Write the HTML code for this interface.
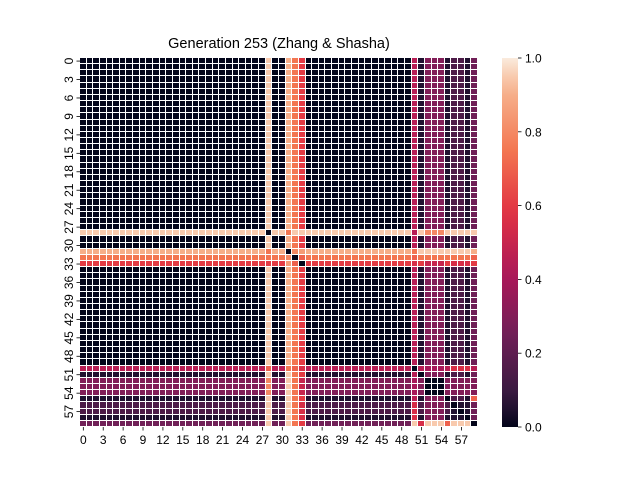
<!DOCTYPE html>
<html><head><meta charset="utf-8"><style>
body{margin:0;background:#fff;width:640px;height:480px;overflow:hidden}
svg{display:block;font-family:"Liberation Sans","DejaVu Sans",sans-serif}
</style></head><body>
<svg id="chart" width="640" height="480" viewBox="0 0 640 480" xmlns="http://www.w3.org/2000/svg">
<rect width="640" height="480" fill="#fff"/>
<text x="279" y="48" text-anchor="middle" font-size="14.5">Generation 253 (Zhang &amp; Shasha)</text>
<g id="cells"></g>
<g id="xticks"></g>
<g id="yticks"></g>
<defs><linearGradient id="rocket" x1="0" y1="1" x2="0" y2="0"></linearGradient></defs>
<rect x="502" y="58" width="16" height="369" fill="url(#rocket)"/>
<g id="cbticks"></g>
</svg>
<script>
// 20-level codes: char index in LEVELS / 20 = value
const LEVELS = "0123456789ABCDEFGHIJK";
const NORMAL = "0*28,J,0*2,I,F,C,0*16,9,1,6*3,1,3*2,1,5";
const rowSpecs = {
  28: "J*28,0,J*2,F,J*2,J*16,9,J,G*3,J*5",
  31: "I*28,F,I*2,0,G,H,I*16,F,J*8,I",
  32: "F*28,F,F*2,G,0,E,F*16,E,F*8,E",
  33: "C*28,C,C*2,H,E,0,C*16,B,C,A*3,C,B*3,C",
  50: "9*28,E,9*2,F,E,B,9*16,0,9,8*3,9,B*3,9",
  51: "1*28,J,1*2,J,F,C,1*16,9,0,6*3,1,3*2,1,5",
  52: "6*28,G,6*2,J,F,A,6*16,8,6,0*3,6*5",
  53: "6*28,G,6*2,J,F,A,6*16,8,6,0*3,6*5",
  54: "6*28,G,6*2,J,F,A,6*16,8,6,0*3,6*5",
  55: "1*28,J,1*2,J,F,C,1*16,9,1,6*3,0,3*2,1,E",
  56: "3*28,J,3*2,J,F,B,3*16,B,3,6*3,3,0,1,1,5",
  57: "3*28,J,3*2,J,F,B,3*16,B,3,6*3,3,1,0,1,5",
  58: "1*28,J,1*2,J,F,B,1*16,B,1,6*3,1,1,1,0,5",
  59: "5*28,J,5*2,J,F,C,5*16,J,B,J*3,E,J*3,0"
};
const xTickLabels = ["0","3","6","9","12","15","18","21","24","27","30","33","36","39","42","45","48","51","54","57"];
const cbTicks = [0.0, 0.2, 0.4, 0.6, 0.8, 1.0];
const N = 60;

const stops = [[0,"#03051a"],[0.083,"#35193e"],[0.25,"#701f57"],[0.417,"#ad1759"],[0.583,"#e13342"],[0.75,"#f37651"],[0.917,"#f6b48f"],[1,"#faebdd"]];
function hex(h){return [1,3,5].map(i=>parseInt(h.substr(i,2),16));}
function cmap(v){
  v=Math.max(0,Math.min(1,v));
  for(let i=1;i<stops.length;i++){
    if(v<=stops[i][0]){
      const a=stops[i-1],b=stops[i],t=(v-a[0])/(b[0]-a[0]);
      const ca=hex(a[1]),cb=hex(b[1]);
      return "rgb("+ca.map((c,k)=>Math.round(c+(cb[k]-c)*t)).join(",")+")";
    }
  }
  return stops[stops.length-1][1];
}
function decode(spec){
  const out=[];
  spec.split(",").forEach(p=>{const [c,n]=p.split("*");const cnt=n?parseInt(n):1;for(let i=0;i<cnt;i++)out.push(LEVELS.indexOf(c)/20);});
  return out;
}
const X0=80,X1=478,Y0=58,Y1=427;
const cw=(X1-X0)/N, ch=(Y1-Y0)/N;
const xs=i=>X0+i*cw, ys=i=>Y0+i*ch;
const NS="http://www.w3.org/2000/svg";
const cells=document.getElementById("cells");
for(let r=0;r<N;r++){
  const vals=decode(rowSpecs[r]||NORMAL);
  for(let c=0;c<N;c++){
    const el=document.createElementNS(NS,"rect");
    const xa=Math.round(xs(c)), xb=Math.round(xs(c+1)), ya=Math.round(ys(r)), yb=Math.round(ys(r+1));
    el.setAttribute("x",xa);el.setAttribute("y",ya);
    el.setAttribute("width",Math.max(1,xb-xa-1));el.setAttribute("height",Math.max(1,yb-ya-1));
    el.setAttribute("fill",cmap(vals[c]));
    el.setAttribute("shape-rendering","crispEdges");
    
    
    cells.appendChild(el);
  }
}
const xg=document.getElementById("xticks"), yg=document.getElementById("yticks");
xTickLabels.forEach(l=>{
  const i=parseInt(l), cx=xs(i)+cw/2, cy=ys(i)+ch/2;
  const t=document.createElementNS(NS,"line");
  t.setAttribute("x1",cx);t.setAttribute("x2",cx);t.setAttribute("y1",Y1);t.setAttribute("y2",Y1+3.5);t.setAttribute("stroke","#000");t.setAttribute("stroke-width","0.8");
  
  
  xg.appendChild(t);
  const tx=document.createElementNS(NS,"text");
  tx.setAttribute("x",cx);tx.setAttribute("y",Y1+17);tx.setAttribute("text-anchor","middle");tx.setAttribute("font-size","12");
  tx.textContent=l;
  
  
  xg.appendChild(tx);
  const yt=document.createElementNS(NS,"line");
  yt.setAttribute("x1",X0-3.5);yt.setAttribute("x2",X0);yt.setAttribute("y1",cy);yt.setAttribute("y2",cy);yt.setAttribute("stroke","#000");yt.setAttribute("stroke-width","0.8");
  
  
  yg.appendChild(yt);
  const ty=document.createElementNS(NS,"text");
  ty.setAttribute("transform","translate("+(X0-7)+","+cy+") rotate(-90)");
  ty.setAttribute("text-anchor","middle");ty.setAttribute("font-size","12");
  ty.textContent=l;
  
  
  yg.appendChild(ty);
});
const grad=document.getElementById("rocket");
for(let k=0;k<=20;k++){const s=document.createElementNS(NS,"stop");s.setAttribute("offset",k/20);s.setAttribute("stop-color",cmap(k/20));grad.appendChild(s);}
const cg=document.getElementById("cbticks");
cbTicks.forEach(v=>{
  const y=Y1-v*(Y1-Y0);
  const t=document.createElementNS(NS,"line");
  t.setAttribute("x1",518);t.setAttribute("x2",521.5);t.setAttribute("y1",y);t.setAttribute("y2",y);t.setAttribute("stroke","#000");t.setAttribute("stroke-width","0.8");
  
  
  cg.appendChild(t);
  const tx=document.createElementNS(NS,"text");
  tx.setAttribute("x",525);tx.setAttribute("y",y+4.5);tx.setAttribute("font-size","12");
  tx.textContent=v.toFixed(1);
  
  
  cg.appendChild(tx);
});
</script>
</body></html>
